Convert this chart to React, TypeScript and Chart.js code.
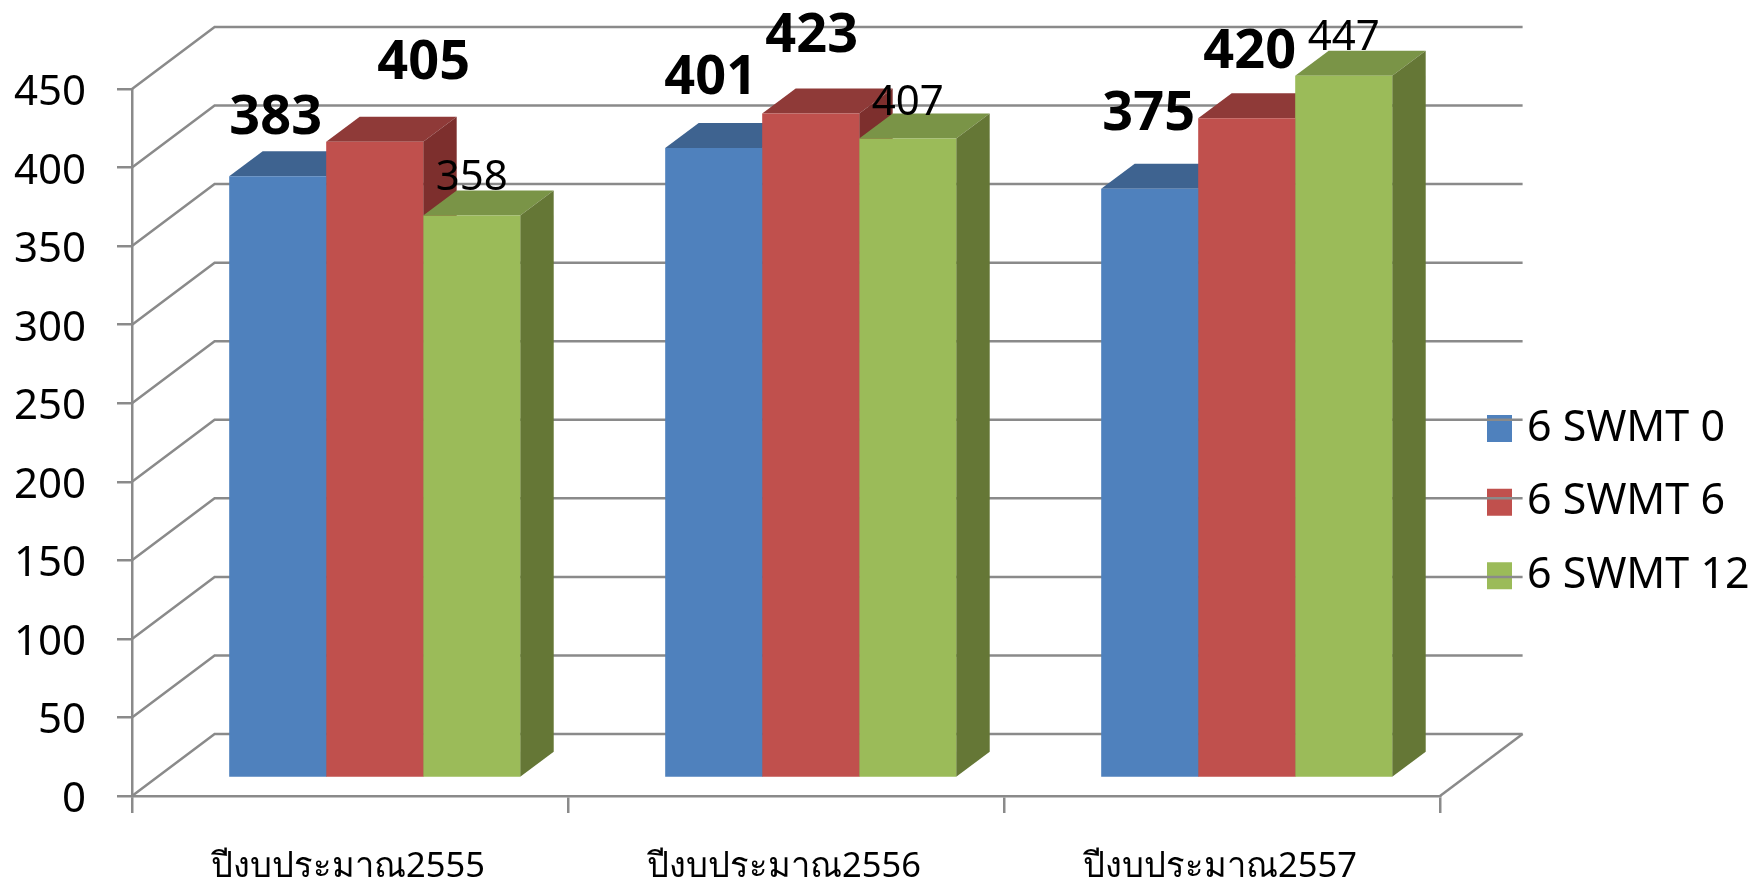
import React, { useEffect, useRef } from "react";
import { Chart, registerables } from "chart.js";

Chart.register(...registerables);

const categories = ["ปีงบประมาณ2555", "ปีงบประมาณ2556", "ปีงบประมาณ2557"];
const seriesNames = ["6 SWMT 0", "6 SWMT 6", "6 SWMT 12"];
const swmt0 = [383, 401, 375];
const swmt6 = [405, 423, 420];
const swmt12 = [358, 407, 447];
const yTicks = [0, 50, 100, 150, 200, 250, 300, 350, 400, 450];

const frontColors = ["#4F81BD", "#C0504D", "#9BBB59"];
const topColors = ["#3E6390", "#8F3A38", "#7A9447"];
const sideColors = ["#345478", "#7D2F2D", "#657736"];
const labelBold = [true, true, false];
// hand-placed label offsets from each bar's top centre, as in the original slide
const labelOffsets = [
  [[-2, -58], [-3, -69], [-1, -74]],
  [[49, -78], [1, -77], [3, -66]],
  [[0, -38], [0, -36], [0, -38]],
];

const W = 1762;
const H = 882;
const AREA = { left: 132, right: 1440, top: 89, bottom: 796 };
const WALL = { dx: 82.6, dy: -62 };
const BAR_SHIFT = { dx: 24.7, dy: -18 };
const BAR_DEPTH = { dx: 33.5, dy: -25 };
const LINE = "#8A8A8A";
const FONT = '"Noto Sans", sans-serif';

const scene = {
  id: "scene",
  afterLayout(chart: any) {
    const l = chart.legend;
    l.left = 1462.9;
    l.right = 1762;
    l.top = 376.5;
    l.bottom = 660;
  },
  beforeDatasetsDraw(chart: any) {
    const { ctx, scales } = chart;
    const y = scales.y;
    ctx.save();
    ctx.strokeStyle = LINE;
    ctx.lineWidth = 2.5;
    yTicks.forEach((t) => {
      const py = y.getPixelForValue(t);
      ctx.beginPath();
      ctx.moveTo(AREA.left, py);
      ctx.lineTo(AREA.left + WALL.dx, py + WALL.dy);
      ctx.lineTo(AREA.right + WALL.dx, py + WALL.dy);
      ctx.stroke();
    });
    const base = y.getPixelForValue(0);
    ctx.beginPath();
    ctx.moveTo(AREA.right, base);
    ctx.lineTo(AREA.right + WALL.dx, base + WALL.dy);
    ctx.stroke();

    for (let d = 0; d < chart.data.datasets.length; d++) {
      chart.getDatasetMeta(d).data.forEach((bar: any) => {
        const { x, y: top, base: b, width } = bar.getProps(["x", "y", "base", "width"]);
        const l = x - width / 2 + BAR_SHIFT.dx;
        const r = x + width / 2 + BAR_SHIFT.dx;
        const t = top + BAR_SHIFT.dy;
        const bt = b + BAR_SHIFT.dy;
        ctx.fillStyle = topColors[d];
        ctx.beginPath();
        ctx.moveTo(l, t);
        ctx.lineTo(l + BAR_DEPTH.dx, t + BAR_DEPTH.dy);
        ctx.lineTo(r + BAR_DEPTH.dx, t + BAR_DEPTH.dy);
        ctx.lineTo(r, t);
        ctx.closePath();
        ctx.fill();
        ctx.fillStyle = sideColors[d];
        ctx.beginPath();
        ctx.moveTo(r, t);
        ctx.lineTo(r + BAR_DEPTH.dx, t + BAR_DEPTH.dy);
        ctx.lineTo(r + BAR_DEPTH.dx, bt + BAR_DEPTH.dy);
        ctx.lineTo(r, bt);
        ctx.closePath();
        ctx.fill();
      });
    }
    ctx.restore();
  },
  beforeDatasetDraw(chart: any) {
    chart.ctx.save();
    chart.ctx.translate(BAR_SHIFT.dx, BAR_SHIFT.dy);
  },
  afterDatasetDraw(chart: any) {
    chart.ctx.restore();
  },
  afterDatasetsDraw(chart: any) {
    const { ctx } = chart;
    ctx.save();
    ctx.textAlign = "center";
    ctx.textBaseline = "middle";
    ctx.fillStyle = "#000000";
    for (let d = 0; d < chart.data.datasets.length; d++) {
      ctx.font = labelBold[d] ? `bold 54px ${FONT}` : `42px ${FONT}`;
      chart.getDatasetMeta(d).data.forEach((bar: any, i: number) => {
        const { x, y } = bar.getProps(["x", "y"]);
        const [ox, oy] = labelOffsets[d][i];
        ctx.fillText(
          String(chart.data.datasets[d].data[i]),
          x + BAR_SHIFT.dx + ox,
          y + BAR_SHIFT.dy + oy
        );
      });
    }
    ctx.restore();
  },
};

export default function App() {
  const ref = useRef<HTMLCanvasElement | null>(null);
  useEffect(() => {
    if (!ref.current) return;
    const chart = new Chart(ref.current, {
      type: "bar",
      data: {
        labels: categories,
        datasets: [swmt0, swmt6, swmt12].map((data, i) => ({
          label: seriesNames[i],
          data,
          backgroundColor: frontColors[i],
          borderWidth: 0,
          categoryPercentage: 0.6675,
          barPercentage: 1,
          clip: false as any,
        })),
      },
      options: {
        animation: false,
        responsive: false,
        devicePixelRatio: 1,
        layout: { padding: { left: 0, top: AREA.top, right: W - AREA.right, bottom: 0 } },
        plugins: {
          title: { display: false },
          tooltip: { enabled: false },
          legend: {
            position: "chartArea" as any,
            align: "start",
            z: 1,
            labels: {
              boxWidth: 12,
              boxHeight: 14,
              padding: 30.6,
              color: "#000000",
              font: { family: FONT, size: 43 },
              generateLabels: () =>
                seriesNames.map((text, i) => ({
                  text,
                  fillStyle: frontColors[i],
                  strokeStyle: frontColors[i],
                  lineWidth: 13,
                  datasetIndex: i,
                })),
            },
          },
        },
        scales: {
          x: {
            afterFit(s: any) {
              s.height = H - AREA.bottom;
            },
            border: { color: LINE, width: 2.5 },
            grid: { drawOnChartArea: false, drawTicks: true, tickLength: 17, color: LINE, lineWidth: 2.5 },
            ticks: {
              padding: 33,
              labelOffset: -2,
              color: "#000000",
              maxRotation: 0,
              autoSkip: false,
              font: { family: FONT, size: 34.5 },
            },
          },
          y: {
            min: 0,
            max: 450,
            afterFit(s: any) {
              s.width = AREA.left;
            },
            afterBuildTicks(s: any) {
              s.ticks = yTicks.map((value) => ({ value }));
            },
            border: { color: LINE, width: 2.5 },
            grid: { drawOnChartArea: false, drawTicks: true, tickLength: 15, color: LINE, lineWidth: 2.5 },
            ticks: {
              padding: 31,
              color: "#000000",
              labelOffset: 4,
              font: { family: FONT, size: 42 },
            },
          },
        },
      },
      plugins: [scene],
    } as any);
    return () => chart.destroy();
  }, []);
  return (
    <canvas
      ref={ref}
      width={W}
      height={H}
      style={{ position: "absolute", left: 0, top: 0, width: W, height: H, display: "block" }}
    />
  );
}
